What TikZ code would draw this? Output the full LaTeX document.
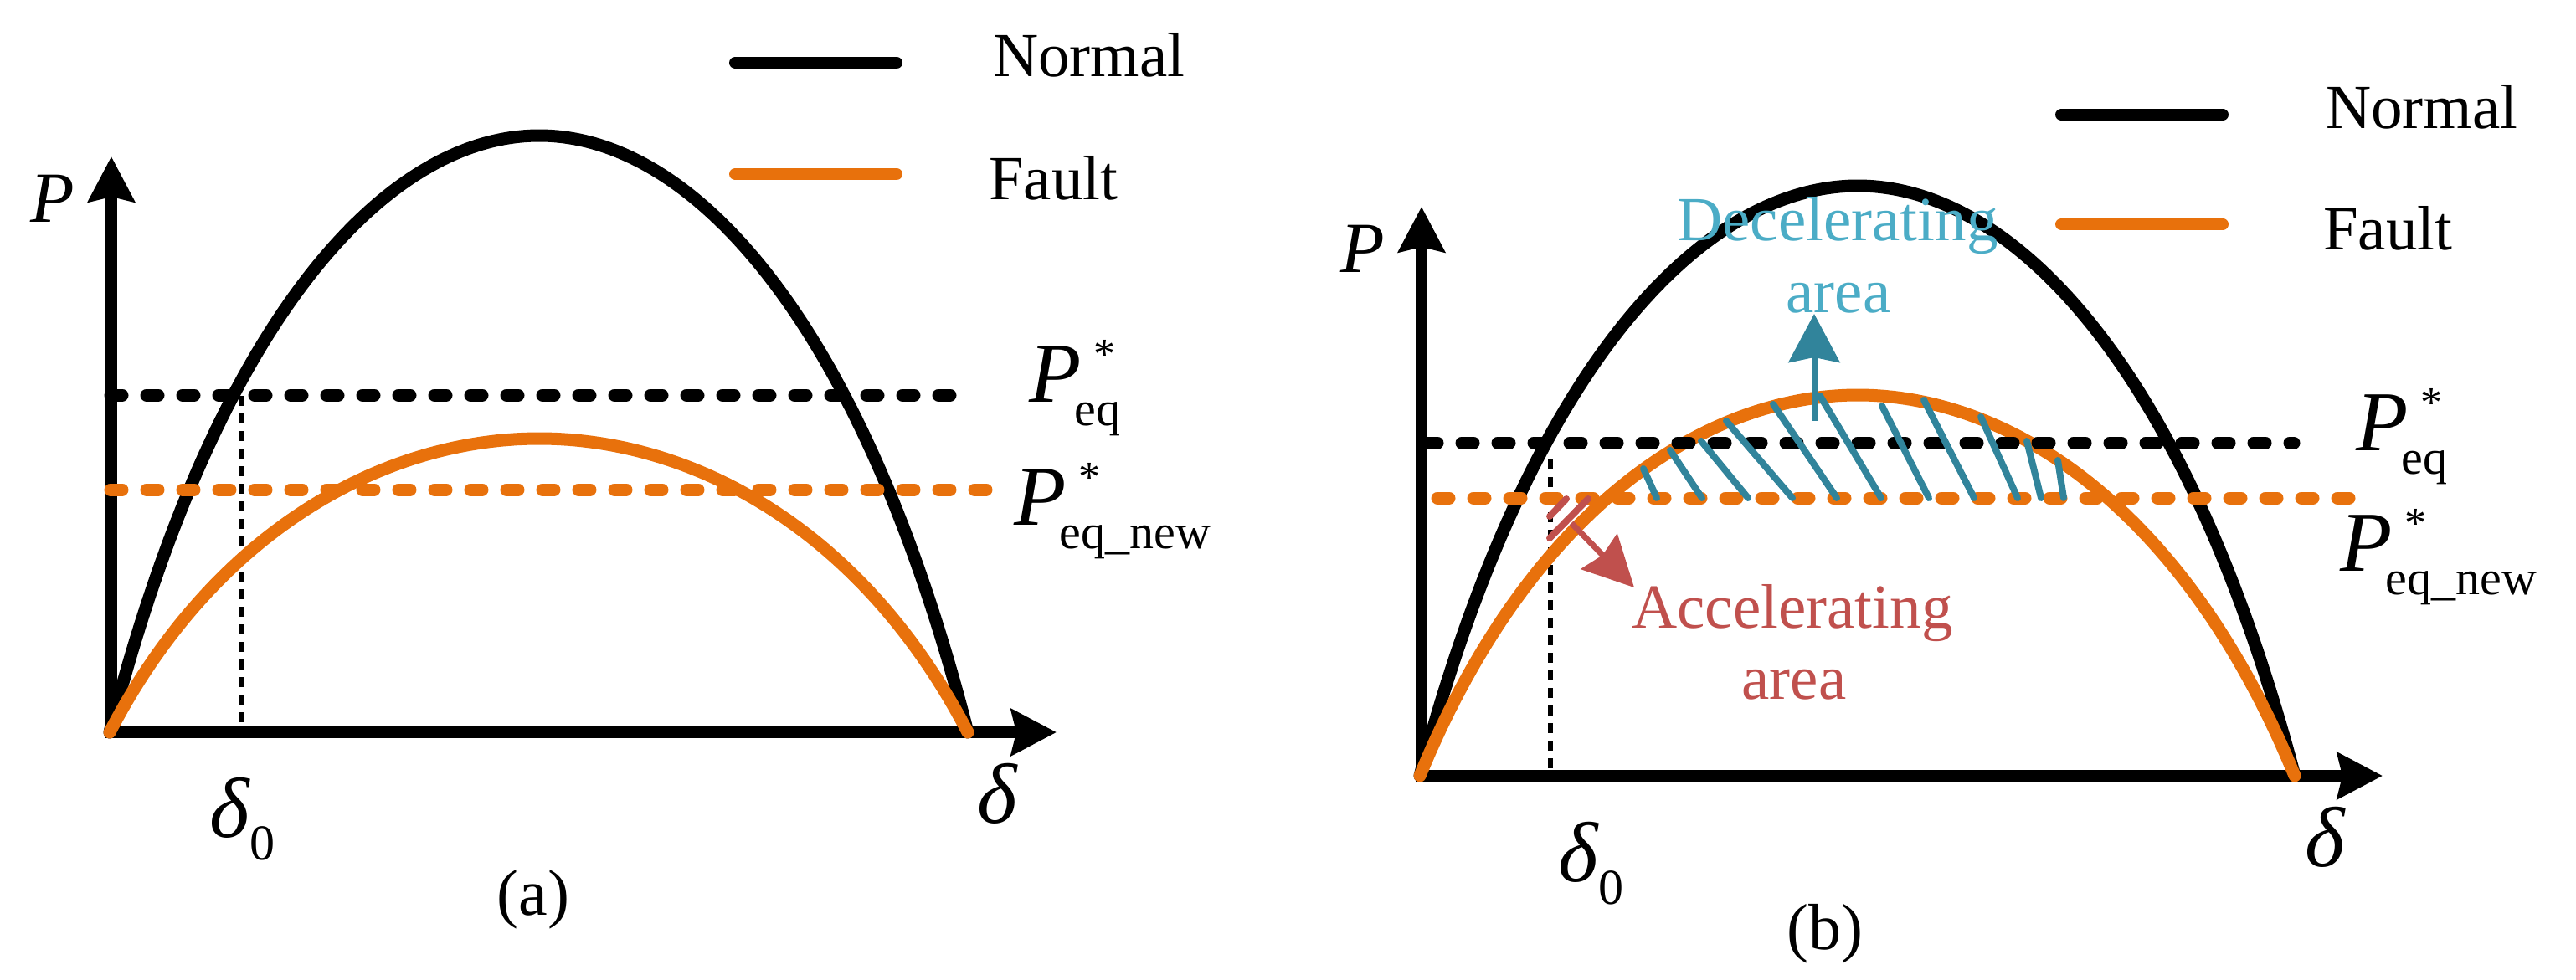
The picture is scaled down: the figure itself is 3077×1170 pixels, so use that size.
\documentclass[tikz,border=0pt]{standalone}
\usepackage{fontspec}
\setmainfont{Liberation Serif}
\usetikzlibrary{arrows.meta}
\definecolor{forange}{RGB}{232,113,12}
\definecolor{tealdark}{RGB}{49,132,155}
\definecolor{teallight}{RGB}{75,172,198}
\definecolor{redacc}{RGB}{192,80,77}
\newcommand{\myfs}[1]{\fontsize{#1pt}{#1pt}\selectfont}
\newcommand{\peqlabel}[1]{\textit{P}\rlap{\kern15pt\raisebox{40pt}{\myfs{52}*}}\kern-8pt\raisebox{-28pt}{\myfs{58}#1}}
\newcommand{\dzlabel}{\textit{δ}\raisebox{-27pt}{\myfs{60}0}}
\begin{document}
\begin{tikzpicture}[x=1pt,y=-1pt,
  axisline/.style={line width=14pt,-{Stealth[length=54pt,width=55pt,inset=6pt]}},
  normalcurve/.style={line width=15pt,black,line cap=round},
  faultcurve/.style={line width=15pt,forange,line cap=round},
  eqline/.style={line width=15pt,line cap=round,dash pattern=on 14pt off 29pt},
  dzline/.style={line width=6pt,dash pattern=on 12pt off 9pt},
  legline/.style={line width=14pt,line cap=round},
  lbl/.style={inner sep=0pt,anchor=base west},
  clbl/.style={inner sep=0pt,anchor=base},
  hatchline/.style={line width=8pt,tealdark,line cap=round},
  redhatch/.style={line width=8pt,redacc,line cap=round},
  decarrow/.style={line width=7pt,tealdark,-{Stealth[length=58pt,width=61pt,inset=6pt]}},
  accarrow/.style={line width=7pt,redacc,-{Stealth[length=60pt,width=60pt,inset=6pt]}}
]
\useasboundingbox (0,0) rectangle (3077,1170);

% ---------------- panel (a) ----------------
\coordinate (a0top) at (289,473);
\coordinate (a0bot) at (289,875);
\draw[dzline] (a0top) -- (a0bot);

\coordinate (ayb) at (133,882);
\coordinate (ayt) at (133,187);
\coordinate (axl) at (126,875);
\coordinate (axr) at (1262,875);
\draw[axisline] (ayb) -- (ayt);
\draw[axisline] (axl) -- (axr);

\coordinate (aL) at (131,875);
\coordinate (aR) at (1156,875);
\coordinate (aNpk) at (644,162);
\coordinate (aFpk) at (644,524);
\draw[normalcurve] (aL) .. controls (259,376) and (464,162) .. (aNpk)
                        .. controls (824,162) and (1028,376) .. (aR);
\draw[faultcurve] (aL) .. controls (259,629) and (464,524) .. (aFpk)
                       .. controls (824,524) and (1028,629) .. (aR);

\coordinate (aeq1) at (132,472);
\coordinate (aeq2) at (1156,472);
\coordinate (anw1) at (132,585);
\coordinate (anw2) at (1194,585);
\draw[eqline,black] (aeq1) -- (aeq2);
\draw[eqline,forange] (anw1) -- (anw2);

\coordinate (alN1) at (878,75);
\coordinate (alN2) at (1071,75);
\coordinate (alF1) at (878,208);
\coordinate (alF2) at (1071,208);
\draw[legline,black] (alN1) -- (alN2);
\draw[legline,forange] (alF1) -- (alF2);

\node[lbl,font=\myfs{75}] (nA) at (1186,91) {Normal};
\node[lbl,font=\myfs{75}] (fA) at (1181,238) {Fault};
\node[lbl,font=\myfs{86}] (pA) at (36,265) {\textit{P}};
\node[lbl,font=\myfs{102}] (peqA) at (1229,480) {\peqlabel{eq}};
\node[lbl,font=\myfs{102}] (pnwA) at (1211,627) {\peqlabel{eq\_new}};
\node[lbl,font=\myfs{102}] (d0A) at (250,1000) {\dzlabel};
\node[lbl,font=\myfs{102}] (dA) at (1167,983) {\textit{δ}};
\node[clbl,font=\myfs{78}] (capA) at (637,1093) {(a)};

% ---------------- panel (b) ----------------
\coordinate (b0top) at (1852,549);
\coordinate (b0bot) at (1852,927);
\draw[dzline] (b0top) -- (b0bot);

\coordinate (byb) at (1698,934);
\coordinate (byt) at (1698,247);
\coordinate (bxl) at (1691,927);
\coordinate (bxr) at (2846,927);
\draw[axisline] (byb) -- (byt);
\draw[axisline] (bxl) -- (bxr);

\coordinate (bL) at (1696,927);
\coordinate (bR) at (2741,927);
\coordinate (bNpk) at (2219,222);
\coordinate (bFpk) at (2219,472);
\draw[normalcurve] (bL) .. controls (1827,433) and (2036,222) .. (bNpk)
                        .. controls (2402,222) and (2610,433) .. (bR);
\draw[faultcurve] (bL) .. controls (1827,608) and (2036,472) .. (bFpk)
                       .. controls (2402,472) and (2610,608) .. (bR);

\coordinate (beq1) at (1703,529);
\coordinate (beq2) at (2740,529);
\coordinate (bnw1) at (1717,595);
\coordinate (bnw2) at (2823,595);
\draw[eqline,black] (beq1) -- (beq2);
\draw[eqline,forange] (bnw1) -- (bnw2);

% decelerating hatch
\foreach \xa/\ya/\xb/\yb in {1963/560/1979/595, 1995/538/2033/595, 2032/527/2088/595,
  2062/503/2141/595, 2118/483/2194/595, 2174/473/2247/595, 2248/485/2304/595,
  2298/478/2358/595, 2366/498/2410/595, 2421/527/2438/595, 2458/550/2465/595}
  \draw[hatchline] (\xa,\ya) -- (\xb,\yb);
% accelerating hatch
\draw[redhatch] (1851,617) -- (1871,596);
\draw[redhatch] (1851,643) -- (1897,596);

\coordinate (dec1) at (2167,503);
\coordinate (dec2) at (2167,375);
\draw[decarrow] (dec1) -- (dec2);
\coordinate (acc1) at (1877,625);
\coordinate (acc2) at (1952,702);
\draw[accarrow] (acc1) -- (acc2);

\coordinate (blN1) at (2462,137);
\coordinate (blN2) at (2655,137);
\coordinate (blF1) at (2462,268);
\coordinate (blF2) at (2655,268);
\draw[legline,black] (blN1) -- (blN2);
\draw[legline,forange] (blF1) -- (blF2);

\node[lbl,font=\myfs{75}] (nB) at (2778,153) {Normal};
\node[lbl,font=\myfs{75}] (fB) at (2775,298) {Fault};
\node[lbl,font=\myfs{86}] (pB) at (1601,325) {\textit{P}};
\node[lbl,font=\myfs{102}] (peqB) at (2814,538) {\peqlabel{eq}};
\node[lbl,font=\myfs{102}] (pnwB) at (2795,682) {\peqlabel{eq\_new}};
\node[lbl,font=\myfs{102}] (d0B) at (1861,1053) {\dzlabel};
\node[lbl,font=\myfs{102}] (dB) at (2753,1035) {\textit{δ}};
\node[clbl,font=\myfs{78}] (capB) at (2180,1134) {(b)};

\node[clbl,font=\myfs{75},text=teallight] (decT1) at (2195,287) {Decelerating};
\node[clbl,font=\myfs{75},text=teallight] (decT2) at (2196,373) {area};
\node[clbl,font=\myfs{75},text=redacc] (accT1) at (2141,750) {Accelerating};
\node[clbl,font=\myfs{75},text=redacc] (accT2) at (2143,835) {area};
\end{tikzpicture}
\end{document}
